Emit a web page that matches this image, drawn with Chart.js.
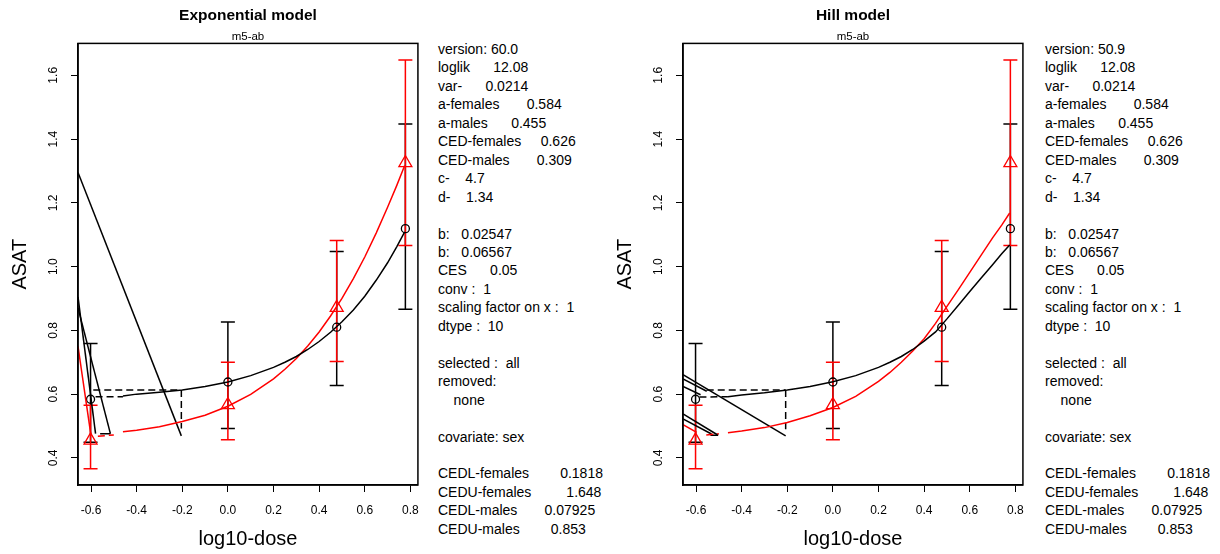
<!DOCTYPE html>
<html>
<head>
<meta charset="utf-8">
<script src="https://cdn.jsdelivr.net/npm/chart.js@4.4.1/dist/chart.umd.min.js"></script>
<style>
  body { margin: 0; background: #fff; width: 1220px; height: 554px; position: relative; overflow: hidden; }
  .panel { position: absolute; top: 0; }
  .info { position: absolute; top: 40px; font: 14px "Liberation Sans", Arial, sans-serif; line-height: 18.46px; white-space: pre; color: #000; }
</style>
</head>
<body>
<div class="panel" style="left:0px"><canvas id="expChart" width="430" height="554"></canvas></div>
<div class="info" id="expInfo" style="left:438px"></div>
<div class="panel" style="left:605px"><canvas id="hillChart" width="430" height="554"></canvas></div>
<div class="info" id="hillInfo" style="left:1045px"></div>
<script>
// observed group means and 95% bars (log10 dose)
var doseLog = [-0.602, 0, 0.477, 0.778];
var femMean = [0.584, 0.638, 0.810, 1.119];
var femLow = [0.449, 0.492, 0.627, 0.866];
var femHigh = [0.759, 0.826, 1.047, 1.447];
var maleMean = [0.455, 0.566, 0.871, 1.325];
var maleLow = [0.366, 0.457, 0.702, 1.066];
var maleHigh = [0.565, 0.700, 1.082, 1.648];

var tickX = [-0.6, -0.4, -0.2, 0, 0.2, 0.4, 0.6, 0.8];
var tickY = [0.4, 0.6, 0.8, 1.0, 1.2, 1.4, 1.6];

// fitted curves
var curveX = [-0.46, -0.4, -0.3, -0.2, -0.1, 0, 0.1, 0.2, 0.25, 0.3, 0.35, 0.4, 0.45, 0.5, 0.55, 0.6, 0.65, 0.7, 0.74, 0.775];
var expFem = [0.594, 0.600, 0.606, 0.613, 0.624, 0.638, 0.658, 0.684, 0.700, 0.718, 0.740, 0.765, 0.794, 0.827, 0.864, 0.907, 0.957, 1.012, 1.062, 1.109];
var expMale = [0.482, 0.487, 0.498, 0.514, 0.534, 0.562, 0.599, 0.648, 0.678, 0.712, 0.751, 0.795, 0.845, 0.900, 0.962, 1.030, 1.105, 1.186, 1.254, 1.317];
var hillFem = [0.592, 0.597, 0.604, 0.613, 0.624, 0.639, 0.658, 0.684, 0.700, 0.718, 0.740, 0.766, 0.795, 0.836, 0.879, 0.922, 0.964, 1.006, 1.040, 1.068];
var hillMale = [0.479, 0.484, 0.495, 0.511, 0.532, 0.558, 0.593, 0.640, 0.668, 0.700, 0.735, 0.774, 0.822, 0.875, 0.928, 0.982, 1.036, 1.090, 1.130, 1.168];

// dashed pieces: curve lead-ins and CED marker (x1, y1, x2, y2)
var expDashed = [[-0.58, 0.592, -0.46, 0.592], [-0.59, 0.613, -0.204, 0.613], [-0.204, 0.613, -0.204, 0.492]];
var expDashedRed = [[-0.57, 0.468, -0.5, 0.472]];
var hillDashed = [[-0.585, 0.591, -0.46, 0.592], [-0.553, 0.613, -0.207, 0.613], [-0.207, 0.613, -0.207, 0.49]];
var hillDashedRed = [[-0.555, 0.472, -0.5, 0.476]];

// stray straight segments
var expLines = [[-0.657, 1.295, -0.204, 0.469], [-0.657, 0.905, -0.58, 0.476], [-0.657, 0.87, -0.515, 0.476], [-0.56, 0.476, -0.515, 0.476]];
var expLinesRed = [[-0.657, 0.75, -0.6, 0.47]];
var hillLines = [[-0.657, 0.661, -0.207, 0.469], [-0.657, 0.648, -0.553, 0.609], [-0.657, 0.624, -0.58, 0.598],
  [-0.657, 0.538, -0.503, 0.471], [-0.657, 0.522, -0.532, 0.475], [-0.537, 0.471, -0.503, 0.471]];
var hillLinesRed = [[-0.657, 0.504, -0.597, 0.48]];

var infoLines = ['loglik      12.08', 'var-      0.0214', 'a-females       0.584', 'a-males      0.455',
  'CED-females     0.626', 'CED-males       0.309', 'c-    4.7', 'd-    1.34', '',
  'b:   0.02547', 'b:   0.06567', 'CES      0.05', 'conv :  1', 'scaling factor on x :  1', 'dtype :  10', '',
  'selected :  all', 'removed:', '    none', '', 'covariate: sex', '',
  'CEDL-females        0.1818', 'CEDU-females         1.648', 'CEDL-males       0.07925', 'CEDU-males        0.853'];

Chart.defaults.font.family = '"Liberation Sans", Arial, sans-serif';
Chart.defaults.color = '#000';

function pts(xs, ys) {
  return xs.map(function (x, i) { return { x: x, y: ys[i] }; });
}

function lineSet(xs, ys, color, dash) {
  return { data: pts(xs, ys), showLine: true, borderColor: color, borderWidth: 1.5, borderDash: dash || [],
    pointRadius: 0, fill: false, tension: 0 };
}

function segSets(segs, color, dash) {
  return segs.map(function (s) { return lineSet([s[0], s[2]], [s[1], s[3]], color, dash); });
}

// error bars and the R style box around the plot
var rStyle = {
  id: 'rStyle',
  beforeDatasetsDraw: function (chart, args, opts) {
    var ctx = chart.ctx, xs = chart.scales.x, ys = chart.scales.y;
    ctx.save();
    ctx.lineWidth = 1.5;
    opts.bars.forEach(function (b) {
      ctx.strokeStyle = b.color;
      b.x.forEach(function (xv, i) {
        var px = xs.getPixelForValue(xv);
        var lo = ys.getPixelForValue(b.lo[i]), hi = ys.getPixelForValue(b.hi[i]);
        ctx.beginPath();
        ctx.moveTo(px, lo); ctx.lineTo(px, hi);
        ctx.moveTo(px - 7, lo); ctx.lineTo(px + 7, lo);
        ctx.moveTo(px - 7, hi); ctx.lineTo(px + 7, hi);
        ctx.stroke();
      });
    });
    ctx.restore();
  },
  afterDraw: function (chart) {
    var a = chart.chartArea, ctx = chart.ctx;
    ctx.save();
    ctx.strokeStyle = '#000';
    ctx.lineWidth = 1.5;
    ctx.strokeRect(a.left, a.top, a.right - a.left, a.bottom - a.top);
    ctx.restore();
  }
};

function makePanel(id, title, fem, male, dashed, dashedRed, lines, linesRed, padRight) {
  var sets = [];
  sets.push(lineSet(curveX, fem, '#000'));
  sets.push(lineSet(curveX, male, '#ff0000'));
  sets = sets.concat(segSets(dashed, '#000', [7, 4]), segSets(dashedRed, '#ff0000', [7, 4]));
  sets = sets.concat(segSets(lines, '#000'), segSets(linesRed, '#ff0000'));
  sets.push({ data: pts(doseLog, femMean), pointStyle: 'circle', pointRadius: 4, borderColor: '#000',
    backgroundColor: 'rgba(0,0,0,0)', borderWidth: 1.3 });
  sets.push({ data: pts(doseLog, maleMean), pointStyle: 'triangle', pointRadius: 7.5, borderColor: '#ff0000',
    backgroundColor: 'rgba(0,0,0,0)', borderWidth: 1.3 });

  return new Chart(document.getElementById(id), {
    type: 'scatter',
    data: { datasets: sets },
    options: {
      responsive: false,
      animation: false,
      layout: { padding: { left: 0, right: padRight, top: 0, bottom: 0 } },
      plugins: {
        legend: { display: false },
        tooltip: { enabled: false },
        title: { display: true, text: title, fullSize: false, font: { size: 15.5, weight: 'bold' }, padding: { top: 6, bottom: 1 } },
        subtitle: { display: true, text: 'm5-ab', fullSize: false, font: { size: 11.5 }, padding: { top: 4, bottom: 0 } },
        rStyle: { bars: [
          { x: doseLog, lo: femLow, hi: femHigh, color: '#000' },
          { x: doseLog, lo: maleLow, hi: maleHigh, color: '#ff0000' }
        ] }
      },
      scales: {
        x: {
          type: 'linear', min: -0.657, max: 0.833,
          afterBuildTicks: function (s) { s.ticks = tickX.map(function (v) { return { value: v }; }); },
          afterFit: function (s) { s.height = 69; },
          ticks: { font: { size: 12 }, padding: 11, maxRotation: 0, callback: function (v) { return v.toFixed(1); } },
          grid: { drawOnChartArea: false, tickLength: 7, color: '#000', lineWidth: 1 },
          border: { color: '#000', width: 1.5 },
          title: { display: true, text: 'log10-dose', font: { size: 20 }, padding: { top: 0, bottom: 3 } }
        },
        y: {
          type: 'linear', min: 0.315, max: 1.70,
          afterBuildTicks: function (s) { s.ticks = tickY.map(function (v) { return { value: v }; }); },
          afterFit: function (s) { s.width = 78; },
          ticks: { font: { size: 12 }, padding: 9, minRotation: 90, maxRotation: 90, crossAlign: 'center',
            callback: function (v) { return v.toFixed(1); } },
          grid: { drawOnChartArea: false, tickLength: 7, color: '#000', lineWidth: 1 },
          border: { color: '#000', width: 1.5 },
          title: { display: true, text: 'ASAT', font: { size: 20 }, padding: { top: 8, bottom: 0 } }
        }
      }
    },
    plugins: [rStyle]
  });
}

makePanel('expChart', 'Exponential model', expFem, expMale, expDashed, expDashedRed, expLines, expLinesRed, 12);
makePanel('hillChart', 'Hill model', hillFem, hillMale, hillDashed, hillDashedRed, hillLines, hillLinesRed, 11);

document.getElementById('expInfo').textContent = ['version: 60.0'].concat(infoLines).join('\n');
document.getElementById('hillInfo').textContent = ['version: 50.9'].concat(infoLines).join('\n');
</script>
</body>
</html>
